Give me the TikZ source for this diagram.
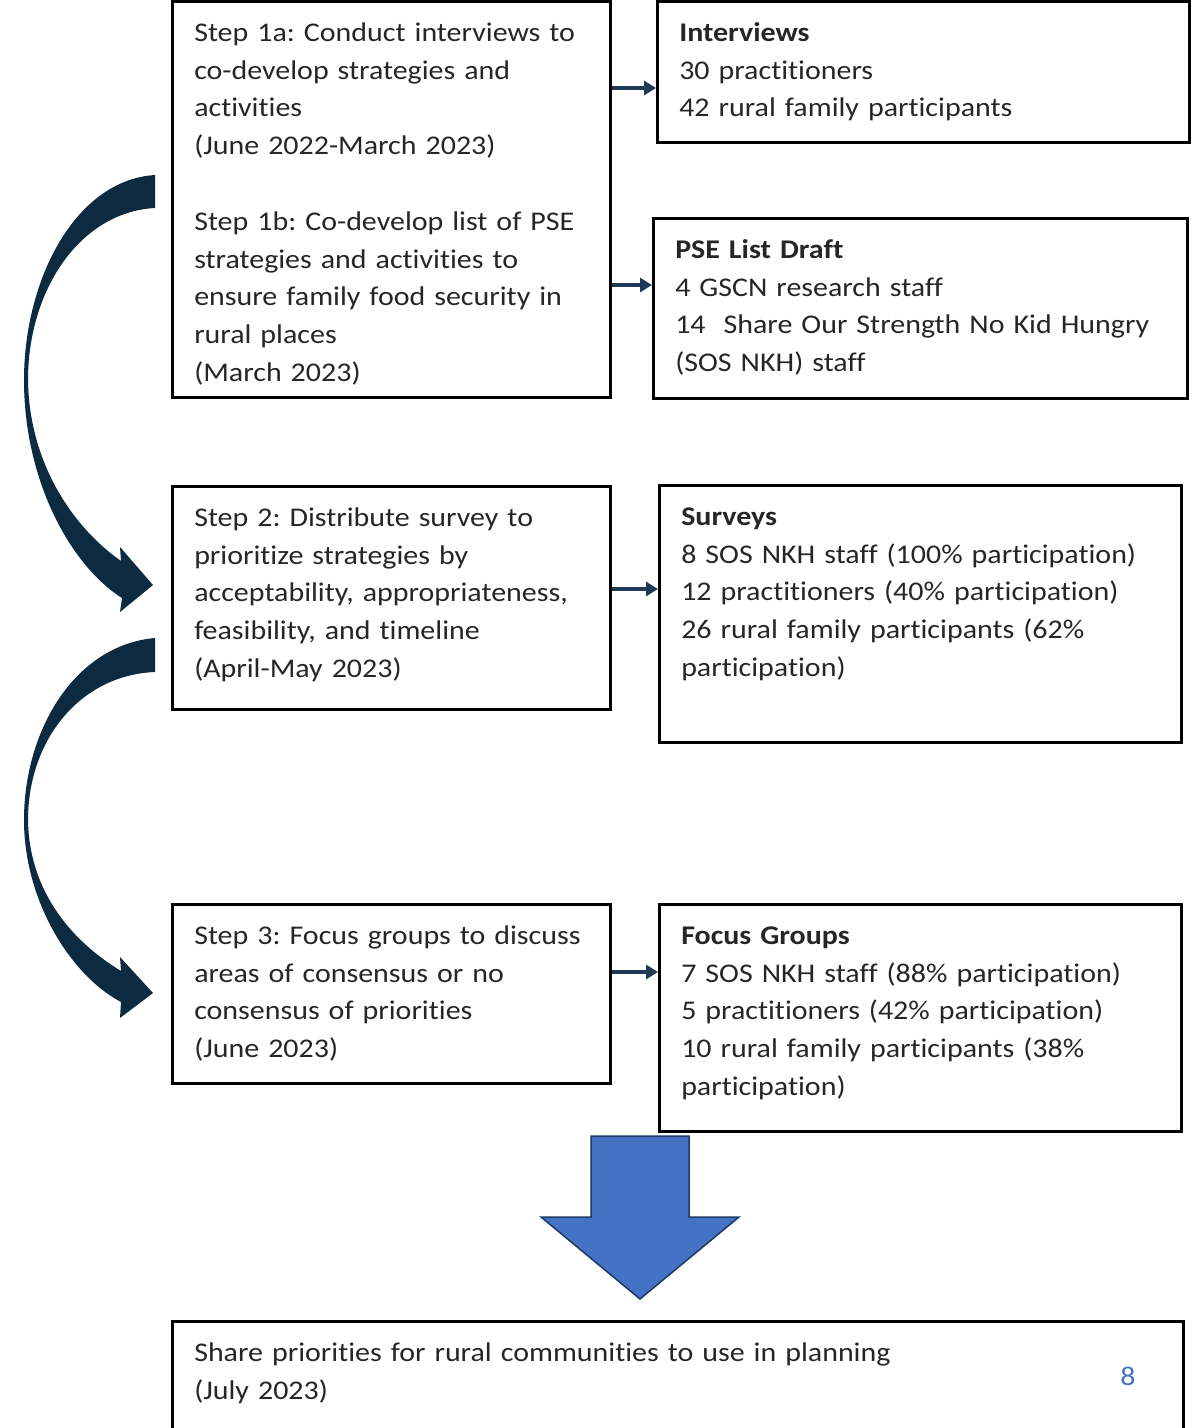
\documentclass[tikz,border=0pt]{standalone}
\usepackage{fontspec}
\setmainfont{Carlito}[Ligatures=NoCommon, FakeStretch=1.11]
\frenchspacing
\usetikzlibrary{arrows.meta}
\definecolor{navy}{RGB}{12,42,64}
\definecolor{linkblue}{RGB}{30,58,84}
\definecolor{boxblue}{RGB}{68,114,196}
\definecolor{edgeblue}{RGB}{31,56,100}
\tikzset{
	stepbox/.style={draw, line width=2.5pt, anchor=north west, align=left, text=black!85,
		inner xsep=22pt, inner ysep=0pt, text height=40pt,
		font=\fontsize{27pt}{37.8pt}\selectfont},
	link/.style={linkblue, line width=3.5pt, -{Triangle[length=12pt,width=14pt]}},
}
\begin{document}
\begin{tikzpicture}[x=1pt,y=-1pt]
			\useasboundingbox (0,0) rectangle (1200,1428);
			% Step boxes
			\node[stepbox, text width=394pt, text depth=356pt] (step1) at (171,0)
				{Step 1a: Conduct interviews to\\ co-develop strategies and\\ activities\\ (June 2022-March 2023)\\[37.8pt]
				 Step 1b: Co-develop list of PSE\\ strategies and activities to\\ ensure family food security in\\ rural places\\ (March 2023)};
			\node[stepbox, text width=394pt, text depth=183pt] (step2) at (171,485)
				{Step 2: Distribute survey to\\ prioritize strategies by\\ \mbox{acceptability, appropriateness,}\\ feasibility, and timeline\\ (April-May 2023)};
			\node[stepbox, text width=394pt, text depth=139pt] (step3) at (171,903)
				{\mbox{Step 3: Focus groups to discuss}\\ areas of consensus or no\\ consensus of priorities\\ (June 2023)};
			% Result boxes
			\node[stepbox, text width=488pt, text depth=101pt] (iv) at (656,0)
				{\textbf{Interviews}\\ 30 practitioners\\ 42 rural family participants};
			\node[stepbox, text width=490pt, text depth=140pt] (pse) at (652,217)
				{\textbf{PSE List Draft}\\ 4 GSCN research staff\\ \mbox{14~ Share Our Strength No Kid Hungry}\\ (SOS NKH) staff};
			\node[stepbox, text width=478pt, text depth=217pt] (srv) at (658,484)
				{\textbf{Surveys}\\ \mbox{8 SOS NKH staff (100\% participation)}\\ 12 practitioners (40\% participation)\\ 26 rural family participants (62\%\\ participation)};
			\node[stepbox, text width=478pt, text depth=187pt] (fg) at (658,903)
				{\textbf{Focus Groups}\\ 7 SOS NKH staff (88\% participation)\\ 5 practitioners (42\% participation)\\ 10 rural family participants (38\%\\ participation)};
			% Final box and page number
			\node[stepbox, text width=967pt, text depth=120pt] (share) at (171,1320)
				{Share priorities for rural communities to use in planning\\ (July 2023)};
			\node[text=boxblue, font=\fontsize{27pt}{32pt}\selectfont] (pg) at (1128,1376) {8};
			% Small arrows
			\draw[link] (step1.east |- 0,88) -- (iv.west |- 0,88);
			\draw[link] (step1.east |- 0,285) -- (pse.west |- 0,285);
			\draw[link] (step2.east |- 0,589) -- (srv.west |- 0,589);
			\draw[link] (step3.east |- 0,972) -- (fg.west |- 0,972);
			% Curved arrows
			\fill[navy] (155,175) .. controls (75,180) and (24,280) .. (24,380)
				.. controls (24,480) and (70,565) .. (122,598) -- (120,612) -- (153,585) -- (120,547) -- (121,561)
				.. controls (70,525) and (29,460) .. (28,380) .. controls (28,290) and (80,212) .. (155,208) -- cycle;
			\fill[navy] (155,638) .. controls (75,645) and (24,730) .. (24,820)
				.. controls (24,900) and (70,975) .. (121,1002) -- (120,1018) -- (153,993) -- (120,957) -- (121,971)
				.. controls (70,940) and (29,890) .. (28,820) .. controls (28,740) and (80,675) .. (155,672) -- cycle;
			% Big arrow
			\filldraw[fill=boxblue, draw=edgeblue, line width=1.5pt] (591,1136) -- (689,1136) -- (689,1217) -- (739,1217)
				-- (640,1299) -- (541,1217) -- (591,1217) -- cycle;
\end{tikzpicture}
\end{document}
